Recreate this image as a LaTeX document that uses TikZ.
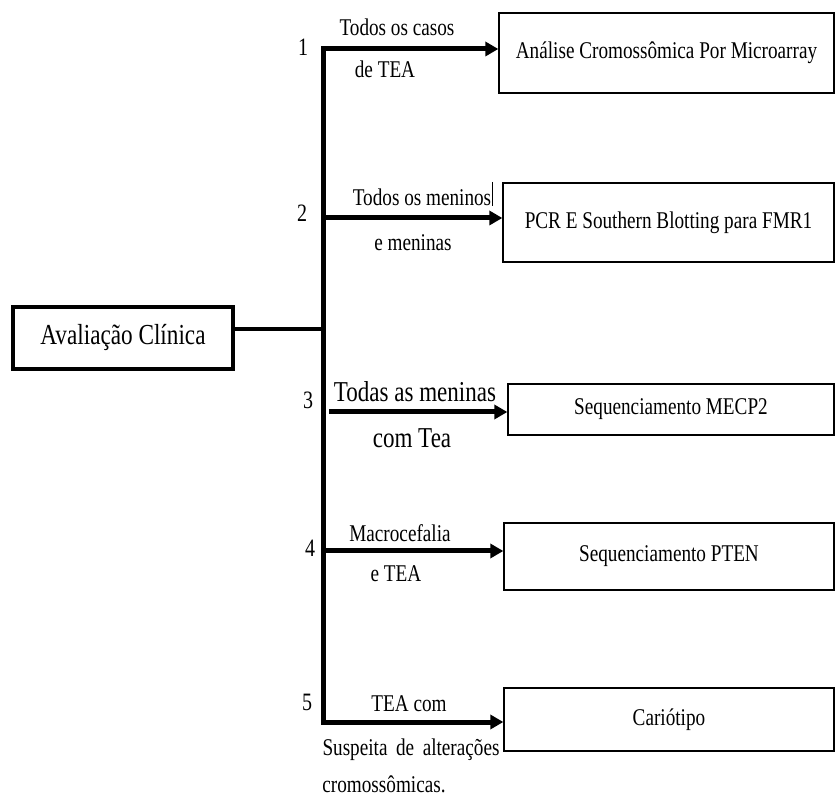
\documentclass[tikz,border=0pt]{standalone}
\usepackage{fontspec}
\setmainfont{Liberation Serif}[FakeStretch=0.8]
\usetikzlibrary{arrows.meta}
\tikzset{
  boxnode/.style={draw, line width=1.3pt, font=\fontsize{24}{28}\selectfont, inner sep=0pt},
  mainbox/.style={draw, line width=4.2pt, font=\fontsize{29}{33}\selectfont, inner sep=0pt},
  lbl/.style={font=\fontsize{24}{28}\selectfont, inner sep=0pt},
  biglbl/.style={font=\fontsize{28.8}{32}\selectfont, inner sep=0pt},
  numlbl/.style={font=\fontsize{25}{29}\selectfont, inner sep=0pt},
  trunk/.style={line width=5pt, line cap=rect},
  thickarrow/.style={line width=5pt, -{Triangle[length=13pt,width=14pt]}},
}
\begin{document}
\begin{tikzpicture}[x=1pt,y=-1pt]
\useasboundingbox (0,0) rectangle (836,799);
% boxes
\node[mainbox, minimum width=220pt, minimum height=62pt] (main) at (123,338) {Avaliação Clínica};
\node[boxnode, minimum width=335pt, minimum height=80pt] (b1) at (666.5,53) {Análise Cromossômica Por Microarray};
\node[boxnode, minimum width=331pt, minimum height=79pt] (b2) at (668.5,222.5) {PCR E Southern Blotting para FMR1};
\node[boxnode, minimum width=326pt, minimum height=51pt] (b3) at (671,409.5) {Sequenciamento MECP2};
\node[boxnode, minimum width=330pt, minimum height=67pt] (b4) at (669,556.5) {Sequenciamento PTEN};
\node[boxnode, minimum width=330pt, minimum height=63pt] (b5) at (669,719.5) {Cariótipo};
% trunk coordinates
\coordinate (t1) at (323,49);
\coordinate (t2) at (323,218);
\coordinate (j) at (323,329);
\coordinate (t3) at (329,412);
\coordinate (t4) at (323,551);
\coordinate (t5) at (323,722);
\draw[trunk] (t1) -- (t5);
\draw[line width=4.5pt] (main.east |- j) -- (j);
\draw[thickarrow] (t1) -- (t1 -| b1.west);
\draw[thickarrow] (t2) -- (t2 -| b2.west);
\draw[thickarrow] (t3) -- (t3 -| b3.west);
\draw[thickarrow] (t4) -- (t4 -| b4.west);
\draw[thickarrow] (t5) -- (t5 -| b5.west);
% numbers
\node[numlbl] (n1) at (303,47) {1};
\node[numlbl] (n2) at (302,213) {2};
\node[numlbl] (n3) at (308,400) {3};
\node[numlbl] (n4) at (310,548) {4};
\node[numlbl] (n5) at (307,702) {5};
% labels
\node[lbl] (l1a) at (397,27) {Todos os casos};
\node[lbl] (l1b) at (385,69) {de TEA};
\node[lbl] (l2a) at (422,197) {Todos os meninos};
\draw[line width=0.8pt] (492,182) -- (492,206);
\node[lbl] (l2b) at (413,243) {e meninas};
\node[biglbl] (l3a) at (415,392) {Todas as meninas};
\node[biglbl] (l3b) at (412,438) {com Tea};
\node[lbl] (l4a) at (400,533) {Macrocefalia};
\node[lbl] (l4b) at (396,574) {e TEA};
\node[lbl] (l5a) at (409,704) {TEA com};
\node[lbl] (l5b) at (411,750) {\makebox[177pt][s]{Suspeita de alterações}};
\node[lbl] (l5c) at (384,784) {cromossômicas.};
\end{tikzpicture}
\end{document}
